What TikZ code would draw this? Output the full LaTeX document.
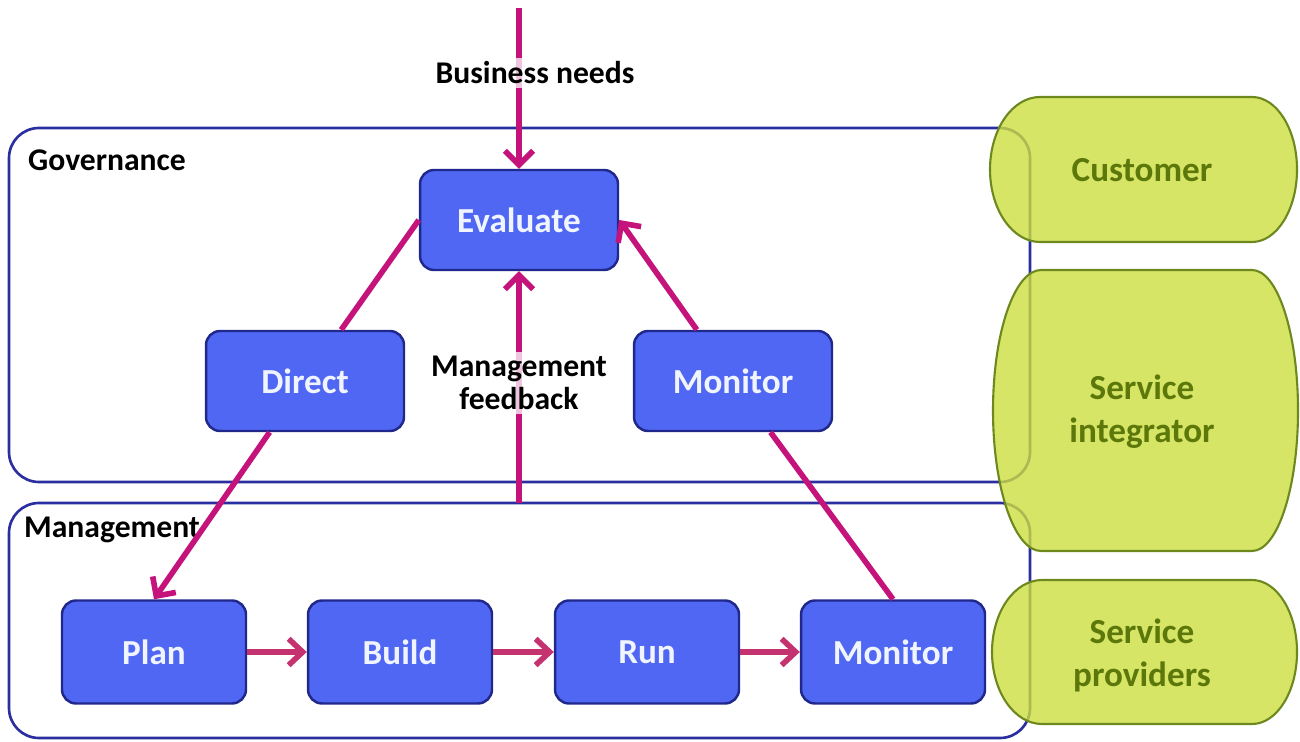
\documentclass[tikz,border=0pt]{standalone}
\usepackage{fontspec}
\setmainfont{Carlito}
\usetikzlibrary{arrows.meta}
\definecolor{bleuboite}{RGB}{79,103,243}
\definecolor{bleubord}{RGB}{32,40,140}
\definecolor{bleucadre}{RGB}{42,46,160}
\definecolor{rosefleche}{RGB}{196,20,124}
\definecolor{roseflux}{RGB}{196,50,112}
\definecolor{vertfond}{RGB}{204,222,62}
\definecolor{vertbord}{RGB}{108,136,30}
\definecolor{verttexte}{RGB}{92,120,10}
\begin{document}
\begin{tikzpicture}[x=0.02cm,y=-0.02cm,
	cadre/.style={draw=bleucadre,line width=1.5pt,rounded corners=0.6cm},
	titre/.style={font=\fontsize{18}{19}\selectfont\bfseries,text=black},
	boite/.style={draw=bleubord,line width=1.4pt,fill=bleuboite,rounded corners=8pt,
		text={rgb,255:red,240;green,244;blue,255},font=\fontsize{20}{22}\selectfont\bfseries,
		minimum width=3.96cm,minimum height=2cm},
	petite/.style={boite,minimum width=3.68cm,minimum height=2.06cm},
	role/.style={fill=vertfond,fill opacity=0.8,draw=vertbord,line width=1.2pt},
	roletexte/.style={font=\fontsize{20}{24.5}\selectfont\bfseries,text=verttexte,align=center},
	etiquette/.style={titre,fill=white,fill opacity=0.75,text opacity=1,inner sep=2pt,align=center},
	fleche/.style={draw=rosefleche,line width=3.2pt,-{Straight Barb[length=8pt,width=16pt]}},
	lien/.style={draw=rosefleche,line width=3.2pt},
	flux/.style={draw=roseflux,line width=3.2pt,-{Straight Barb[length=8pt,width=15pt]}}]
\useasboundingbox (0,0) rectangle (1300,742);
%					Cadres :
\draw[cadre] (9,128) rectangle (1030,482);
\draw[cadre] (9,503) rectangle (1030,738);
\node[titre,anchor=west] (gouv) at (22,160) {Governance};
\node[titre,anchor=west] (gest) at (18,530) {Management};
%					Boites de gouvernance :
\node[boite] (eval) at (519,220) {Evaluate};
\node[boite] (direct) at (305,381) {Direct};
\node[boite] (monitorg) at (733,381) {Monitor};
%					Boites de gestion :
\node[petite] (plan) at (154,652) {Plan};
\node[petite] (build) at (400,652) {Build};
\node[petite] (run) at (647,652) {Run};
\node[petite] (monitorm) at (893,652) {Monitor};
%					Fleches :
\coordinate (besoins) at (519,8);
\coordinate (retour) at (519,503);
\draw[fleche] (besoins) -- (eval);
\draw[fleche] (retour) -- (eval);
\node[etiquette] (lbesoins) at (535,73) {Business needs};
\node[etiquette] (lretour) at (519,383) {Management\\feedback};
\draw[lien] (direct) -- (eval.west);
\draw[fleche] (direct) -- (plan.north);
\draw[fleche] (monitorg) -- (eval.east);
\draw[lien] (monitorm.north) -- (monitorg);
\draw[flux] (plan) -- (build);
\draw[flux] (build) -- (run);
\draw[flux] (run) -- (monitorm);
%					Roles :
\path[role] (1040,97) -- (1252,97) arc[start angle=-90,end angle=90,x radius=45,y radius=72.5]
	-- (1040,242) arc[start angle=90,end angle=270,x radius=50,y radius=72.5] -- cycle;
\path[role] (1041,270) -- (1252,270) arc[start angle=-90,end angle=90,x radius=46,y radius=140.5]
	-- (1041,551) arc[start angle=90,end angle=270,x radius=48,y radius=140.5] -- cycle;
\path[role] (1042,580) -- (1252,580) arc[start angle=-90,end angle=90,x radius=45,y radius=72]
	-- (1042,724) arc[start angle=90,end angle=270,x radius=50,y radius=72] -- cycle;
\node[roletexte] (client) at (1142,170) {Customer};
\node[roletexte] (integ) at (1142,412) {Service\\integrator};
\node[roletexte] (fourn) at (1142,655) {Service\\providers};
\end{tikzpicture}
\end{document}
